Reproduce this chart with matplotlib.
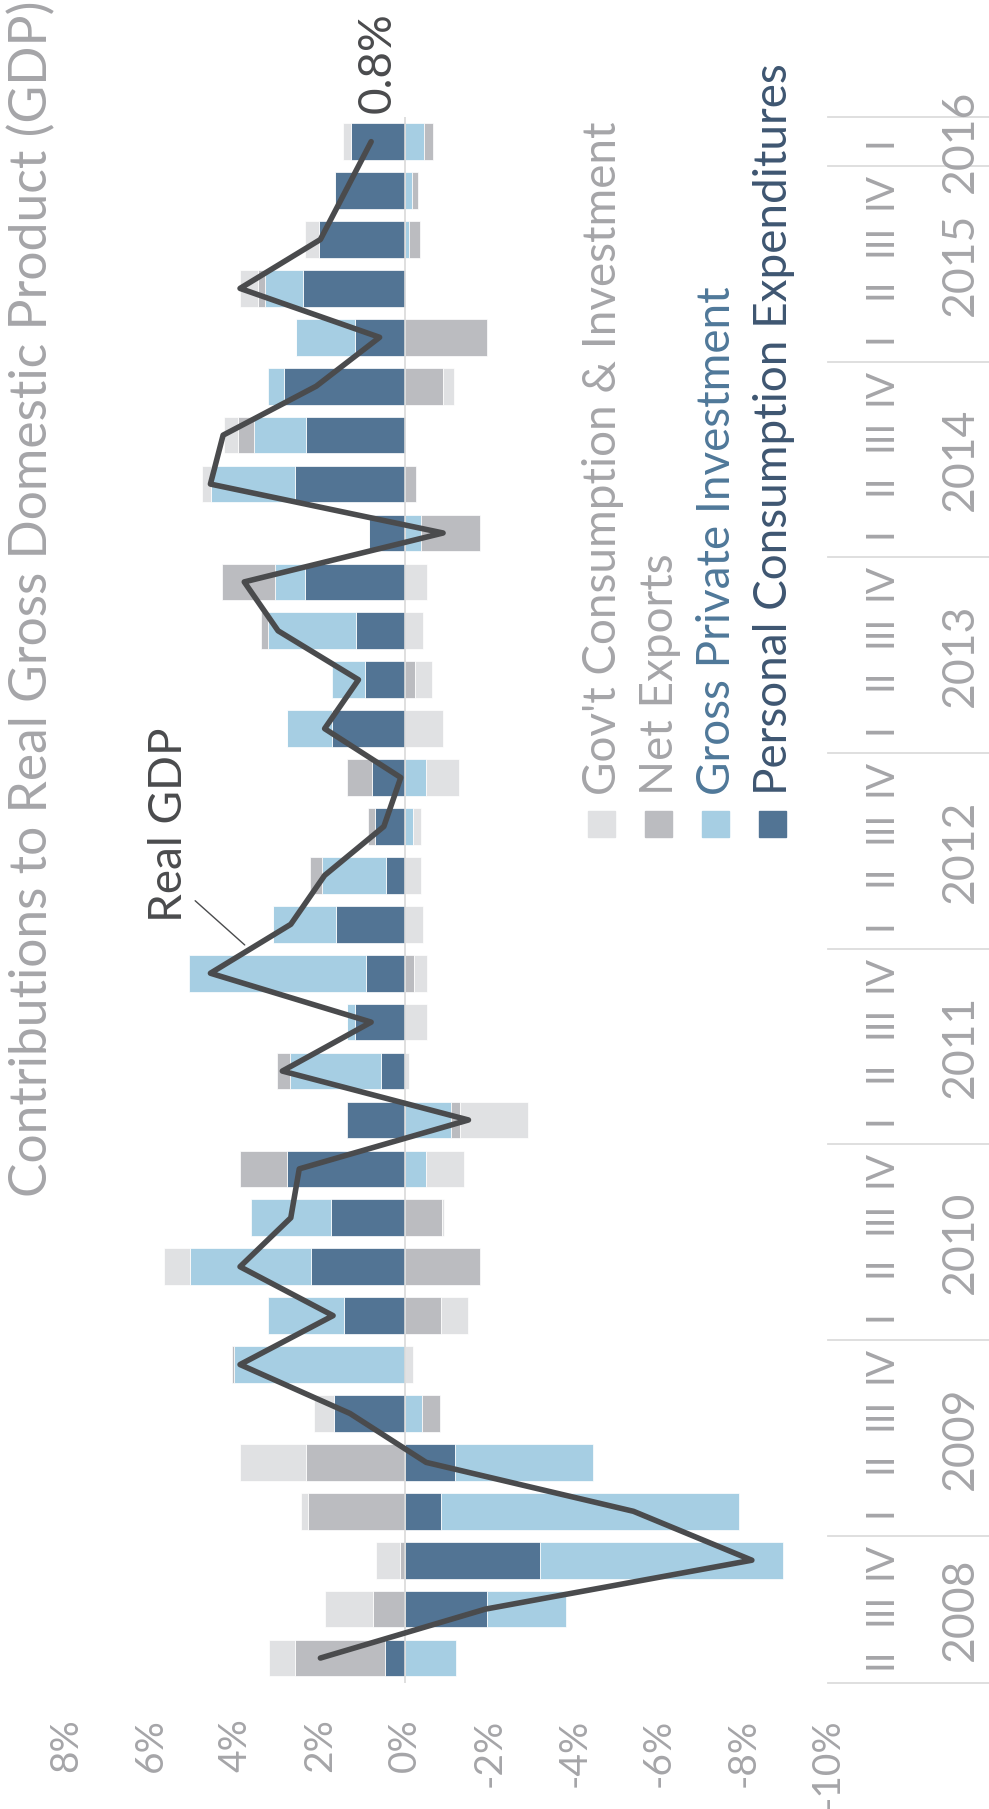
import matplotlib
matplotlib.use("Agg")
import matplotlib.pyplot as plt
from matplotlib.patches import Rectangle
import numpy as np

# quarterly periods, oldest first
periods = [
    "2008 II", "2008 III", "2008 IV",
    "2009 I", "2009 II", "2009 III", "2009 IV",
    "2010 I", "2010 II", "2010 III", "2010 IV",
    "2011 I", "2011 II", "2011 III", "2011 IV",
    "2012 I", "2012 II", "2012 III", "2012 IV",
    "2013 I", "2013 II", "2013 III", "2013 IV",
    "2014 I", "2014 II", "2014 III", "2014 IV",
    "2015 I", "2015 II", "2015 III", "2015 IV",
    "2016 I",
]

# contributions to percent change in real GDP (percentage points)
pce = [0.48, -1.94, -3.18, -0.85, -1.18, 1.67, 0.00, 1.45, 2.22, 1.76, 2.79,
       1.37, 0.57, 1.18, 0.93, 1.63, 0.45, 0.70, 0.78, 1.73, 0.94, 1.16, 2.36,
       0.85, 2.61, 2.34, 2.87, 1.18, 2.42, 2.03, 1.65, 1.28]
gpi = [-1.21, -1.87, -5.75, -7.04, -3.27, -0.40, 4.05, 1.79, 2.87, 1.87, -0.49,
       -1.09, 2.15, 0.18, 4.18, 1.48, 1.52, -0.19, -0.49, 1.06, 0.79, 2.09, 0.72,
       -0.39, 1.97, 1.22, 0.36, 1.40, 0.90, -0.09, -0.16, -0.46]
net_exports = [2.12, 0.76, 0.13, 2.30, 2.34, -0.43, 0.03, -0.85, -1.78, -0.88, 1.10,
               -0.22, 0.30, 0.00, -0.21, 0.00, 0.28, 0.18, 0.58, 0.00, -0.24, 0.15, 1.25,
               -1.39, -0.25, 0.39, -0.90, -1.94, 0.15, -0.27, -0.14, -0.20]
gov = [0.61, 1.13, 0.55, 0.15, 1.55, 0.48, -0.19, -0.64, 0.61, -0.04, -0.90,
       -1.60, -0.09, -0.52, -0.31, -0.42, -0.39, -0.19, -0.78, -0.90, -0.39, -0.42, -0.51,
       0.00, 0.22, 0.33, -0.25, 0.00, 0.43, 0.33, 0.00, 0.19]
real_gdp = [2.0, -1.9, -8.2, -5.4, -0.5, 1.3, 3.9, 1.7, 3.9, 2.7, 2.5,
            -1.5, 2.9, 0.8, 4.6, 2.7, 1.9, 0.5, 0.1, 1.9, 1.1, 3.0, 3.8,
            -0.9, 4.6, 4.3, 2.1, 0.6, 3.9, 2.0, 1.4, 0.8]

value_ticks = [8, 6, 4, 2, 0, -2, -4, -6, -8, -10]

names = ["Personal Consumption Expenditures", "Gross Private Investment",
         "Net Exports", "Gov't Consumption & Investment"]
bar_colors = ["#527494", "#a6cee3", "#bbbcc0", "#e0e1e3"]
text_colors = ["#3e5671", "#4f7899", "#a5a5a8", "#a5a5a8"]
gray = "#a5a5a8"
dark = "#4a4b4d"

plt.rcParams["font.family"] = ["Lato", "DejaVu Sans"]

# canvas in pixels, the chart is laid out on its side
W, H = 989, 1809
L, R, T, B = 3.15, 828.0, 117.2, 1682.5

fig = plt.figure(figsize=(W / 100, H / 100), dpi=100)
ax = fig.add_axes([L / W, (H - B) / H, (R - L) / W, (B - T) / H])

y = np.arange(len(periods))
pos = np.zeros(len(periods))
neg = np.zeros(len(periods))
for vals, col in zip([pce, gpi, net_exports, gov], bar_colors):
    v = np.array(vals)
    left = np.where(v >= 0, pos, neg)
    ax.barh(y, v, left=left, height=0.75, color=col, edgecolor="white", linewidth=0.5, zorder=2)
    pos = pos + np.clip(v, 0, None)
    neg = neg + np.clip(v, None, 0)

ax.axvline(0, color="#d9d9d9", lw=1.2, zorder=3)
ax.plot(real_gdp, y, color=dark, lw=4.0, solid_capstyle="round", solid_joinstyle="round", zorder=4)

ax.set_xlim(9.5, -10)
ax.set_ylim(-0.5, len(periods) - 0.5)
for s in ax.spines.values():
    s.set_visible(False)
ax.set_yticks([])
ax.set_xticks(value_ticks)
ax.set_xticklabels([f"{v}%" for v in value_ticks])
ax.tick_params(axis="x", length=0, pad=26, labelsize=28, labelcolor=gray, labelrotation=90)

# quarter and year labels along the category side
def ax_x(px):
    return (px - L) / (R - L)

trans = ax.get_yaxis_transform()
years = [p.split()[0] for p in periods]
quarters = [p.split()[1] for p in periods]
for i, q in enumerate(quarters):
    ax.text(ax_x(881), i, q, rotation=90, ha="center", va="center",
            fontsize=28, color=gray, transform=trans)

bounds = [-0.5]
for i in range(1, len(years)):
    if years[i] != years[i - 1]:
        bounds.append(i - 0.5)
bounds.append(len(years) - 0.5)
for b in bounds:
    ax.plot([1.0, ax_x(W)], [b, b], color="#dcdcdc", lw=1.3, transform=trans, clip_on=False)
for yr in dict.fromkeys(years):
    idx = [i for i, v in enumerate(years) if v == yr]
    ax.text(ax_x(960), np.mean(idx), yr, rotation=90, ha="center", va="center",
            fontsize=32, color=gray, transform=trans)

# legend, drawn as rotated entries
sq_left = [759, 702, 645, 588]
for name, col, tcol, sx in zip(names, bar_colors, text_colors, sq_left):
    fig.patches.append(Rectangle((sx / W, 1 - 837 / H), 27 / W, 26 / H,
                                 transform=fig.transFigure, color=col))
    fig.text((sx + 28) / W, 1 - 795 / H, name, rotation=90, rotation_mode="anchor",
             ha="left", va="baseline", fontsize=33, color=tcol)

fig.text(47 / W, 1 - 1197 / H, "Contributions to Real Gross Domestic Product (GDP)",
         rotation=90, rotation_mode="anchor", ha="left", va="baseline", fontsize=37.2, color=gray)

fig.text(182 / W, 1 - 922 / H, "Real GDP", rotation=90, rotation_mode="anchor",
         ha="left", va="baseline", fontsize=33, color=dark)
ax.annotate("", xy=(3.74, 14.54), xytext=(5.01, 15.52),
            arrowprops=dict(arrowstyle="-", color=dark, lw=1.0))

fig.text(391 / W, 1 - 113 / H, f"{real_gdp[-1]}%", rotation=90, rotation_mode="anchor",
         ha="left", va="baseline", fontsize=33, color=dark)

fig.savefig("out.png", dpi=100)
